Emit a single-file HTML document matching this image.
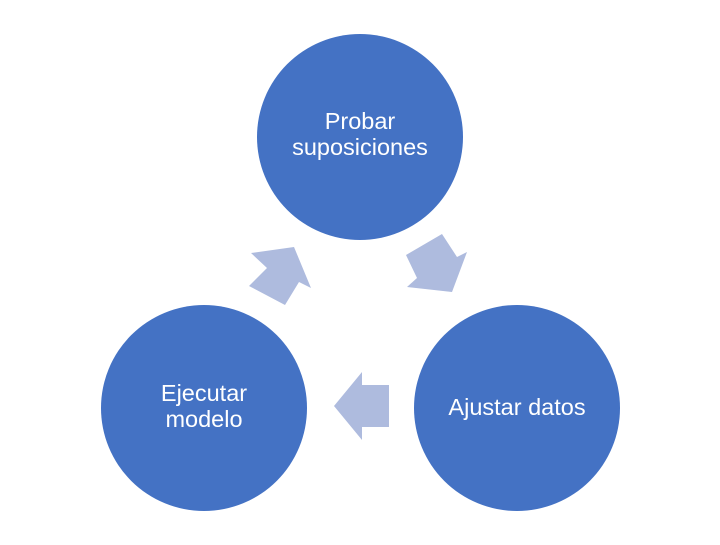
<!DOCTYPE html>
<html><head><style>
body{margin:0;width:720px;height:540px;background:#fff;overflow:hidden}
</style></head><body>
<svg width="720" height="540" xmlns="http://www.w3.org/2000/svg" font-family="Liberation Sans, Arial, sans-serif" font-size="23.5" fill="#fff">
<circle cx="360" cy="137" r="103" fill="#4472C4"/>
<circle cx="204" cy="408" r="103" fill="#4472C4"/>
<circle cx="517" cy="408" r="103" fill="#4472C4"/>
<polygon points="334,406 362,372 362,385 389,385 389,427 362,427 362,440" fill="#AEBBDE"/>
<polygon points="294,247 311,288 299,282 285,305 249,286 267,268 251,253" fill="#AEBBDE"/>
<polygon points="406,255 442,234 457,257 467,252 452,292 407,287 417,278" fill="#AEBBDE"/>
<text x="360" y="129" text-anchor="middle">Probar</text>
<text x="360" y="155" text-anchor="middle">suposiciones</text>
<text x="204" y="401" text-anchor="middle">Ejecutar</text>
<text x="204" y="427" text-anchor="middle">modelo</text>
<text x="517" y="415" text-anchor="middle">Ajustar datos</text>
</svg>
</body></html>
